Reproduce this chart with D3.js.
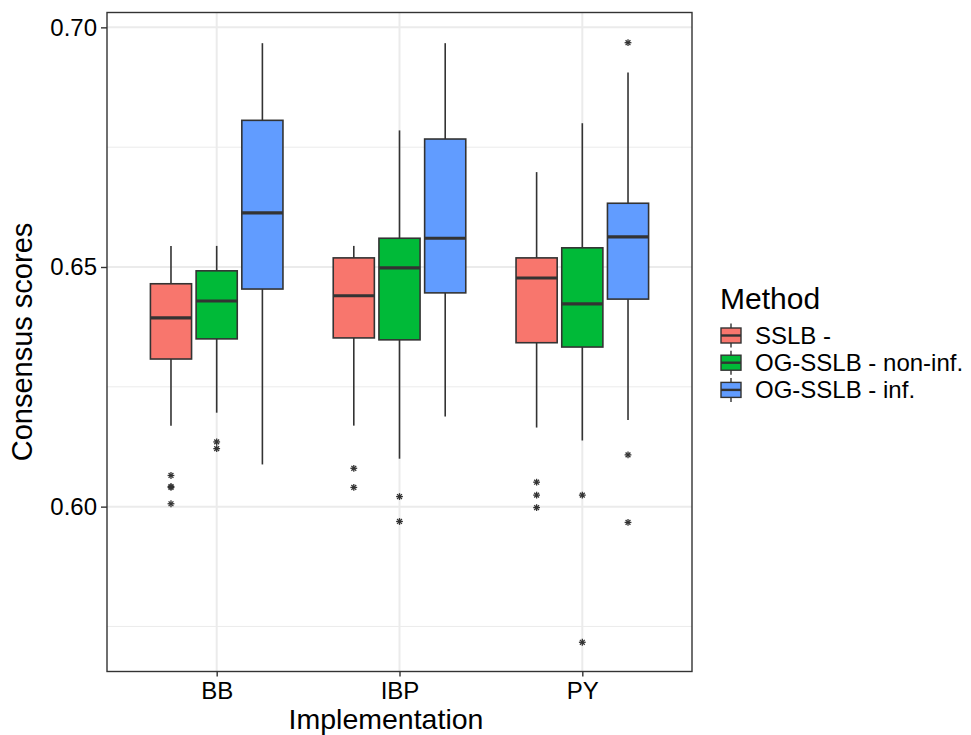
<!DOCTYPE html>
<html>
<head>
<meta charset="utf-8">
<script src="https://cdn.jsdelivr.net/npm/d3@7"></script>
<style>
  html, body { margin: 0; padding: 0; background: #fff; }
  svg { display: block; font-family: "Liberation Sans", Arial, sans-serif; }
</style>
</head>
<body>
<svg id="chart" width="971" height="735"></svg>
<script>
// ---------- data ----------
const categories = ["BB", "IBP", "PY"];
const methods = ["SSLB -", "OG-SSLB - non-inf.", "OG-SSLB - inf."];
const colors = ["#F8766D", "#00BA38", "#619CFF"];

// per category: [whiskerLow, q1, median, q3, whiskerHigh]
const sslbStats = [
  [0.6169, 0.6308, 0.6394, 0.6465, 0.6544],
  [0.6169, 0.6352, 0.6440, 0.6519, 0.6544],
  [0.6165, 0.6342, 0.6477, 0.6519, 0.6698]
];
const ogNonInfStats = [
  [0.6196, 0.6350, 0.6429, 0.6492, 0.6544],
  [0.6100, 0.6348, 0.6498, 0.6560, 0.6785],
  [0.6138, 0.6333, 0.6423, 0.6540, 0.6800]
];
const ogInfStats = [
  [0.6088, 0.6454, 0.6613, 0.6806, 0.6967],
  [0.6188, 0.6446, 0.6560, 0.6767, 0.6967],
  [0.6181, 0.6433, 0.6563, 0.6633, 0.6906]
];
const sslbOutliers = [[0.6065, 0.6042, 0.6040, 0.6006], [0.6080, 0.6040], [0.6051, 0.6024, 0.5998]];
const ogNonInfOutliers = [[0.6135, 0.6121], [0.6021, 0.5969], [0.6024, 0.5717]];
const ogInfOutliers = [[], [], [0.6968, 0.6108, 0.5967]];

const yMajorTicks = [0.60, 0.65, 0.70];
const yMinorTicks = [0.575, 0.625, 0.675];

const allStats = [sslbStats, ogNonInfStats, ogInfStats];
const allOutliers = [sslbOutliers, ogNonInfOutliers, ogInfOutliers];

// ---------- layout ----------
const panel = { left: 107, right: 692, top: 12.5, bottom: 671.5 };
const svg = d3.select("#chart");

const x = d3.scalePoint().domain(categories).range([panel.left, panel.right]).padding(0.6);
const step = x.step();
const y = d3.scaleLinear().domain([0.5656, 0.7031]).range([panel.bottom, panel.top]);

const dodge = 0.25 * step;
const boxW = 0.225 * step;
const ink = "#333333";

// panel background
svg.append("rect").attr("x", panel.left).attr("y", panel.top)
  .attr("width", panel.right - panel.left).attr("height", panel.bottom - panel.top)
  .attr("fill", "#fff");

// grid
const grid = svg.append("g");
grid.selectAll("line.minor").data(yMinorTicks).join("line")
  .attr("x1", panel.left).attr("x2", panel.right)
  .attr("y1", d => y(d)).attr("y2", d => y(d))
  .attr("stroke", "#ebebeb").attr("stroke-width", 1);
grid.selectAll("line.majory").data(yMajorTicks).join("line")
  .attr("x1", panel.left).attr("x2", panel.right)
  .attr("y1", d => y(d)).attr("y2", d => y(d))
  .attr("stroke", "#ebebeb").attr("stroke-width", 2);
grid.selectAll("line.majorx").data(categories).join("line")
  .attr("y1", panel.top).attr("y2", panel.bottom)
  .attr("x1", d => x(d)).attr("x2", d => x(d))
  .attr("stroke", "#ebebeb").attr("stroke-width", 2);

// boxes
const boxes = svg.append("g");
allStats.forEach((statsArr, mi) => {
  statsArr.forEach((s, ci) => {
    const cx = x(categories[ci]) + (mi - 1) * dodge;
    const g = boxes.append("g");
    // whiskers
    g.append("line").attr("x1", cx).attr("x2", cx)
      .attr("y1", y(s[4])).attr("y2", y(s[3]))
      .attr("stroke", ink).attr("stroke-width", 1.6);
    g.append("line").attr("x1", cx).attr("x2", cx)
      .attr("y1", y(s[1])).attr("y2", y(s[0]))
      .attr("stroke", ink).attr("stroke-width", 1.6);
    // box
    g.append("rect").attr("x", cx - boxW / 2).attr("y", y(s[3]))
      .attr("width", boxW).attr("height", y(s[1]) - y(s[3]))
      .attr("fill", colors[mi]).attr("stroke", ink).attr("stroke-width", 1.6);
    // median
    g.append("line").attr("x1", cx - boxW / 2).attr("x2", cx + boxW / 2)
      .attr("y1", y(s[2])).attr("y2", y(s[2]))
      .attr("stroke", ink).attr("stroke-width", 3.2);
    // outliers (asterisk, shape 8)
    allOutliers[mi][ci].forEach(v => {
      const py = y(v), r = 3.4, d = r * 0.7071;
      const p = g.append("g").attr("stroke", ink).attr("stroke-width", 1.3);
      p.append("line").attr("x1", cx - r).attr("x2", cx + r).attr("y1", py).attr("y2", py);
      p.append("line").attr("x1", cx).attr("x2", cx).attr("y1", py - r).attr("y2", py + r);
      p.append("line").attr("x1", cx - d).attr("x2", cx + d).attr("y1", py - d).attr("y2", py + d);
      p.append("line").attr("x1", cx - d).attr("x2", cx + d).attr("y1", py + d).attr("y2", py - d);
    });
  });
});

// panel border
svg.append("rect").attr("x", panel.left).attr("y", panel.top)
  .attr("width", panel.right - panel.left).attr("height", panel.bottom - panel.top)
  .attr("fill", "none").attr("stroke", ink).attr("stroke-width", 1.4);

// axes
const yAxis = svg.append("g").attr("transform", `translate(${panel.left},0)`)
  .call(d3.axisLeft(y).tickValues(yMajorTicks).tickFormat(d3.format(".2f")).tickSize(6).tickPadding(4));
const xAxis = svg.append("g").attr("transform", `translate(0,${panel.bottom})`)
  .call(d3.axisBottom(x).tickSize(5).tickPadding(4));
[yAxis, xAxis].forEach(a => {
  a.select(".domain").remove();
  a.selectAll(".tick line").attr("stroke", ink).attr("stroke-width", 1.4);
  a.selectAll(".tick text").attr("fill", "#000").style("font-size", "24px")
    .style("font-family", "'Liberation Sans', Arial, sans-serif");
});
xAxis.selectAll(".tick text").attr("dy", "0.75em");

// axis titles
svg.append("text").attr("x", 386).attr("y", 729).attr("text-anchor", "middle")
  .style("font-size", "28.5px").attr("fill", "#000").text("Implementation");
svg.append("text").attr("transform", `translate(32,${(panel.top + panel.bottom) / 2}) rotate(-90)`)
  .attr("text-anchor", "middle").style("font-size", "29px").attr("fill", "#000").text("Consensus scores");

// legend
const legend = svg.append("g").attr("transform", "translate(720,0)");
legend.append("text").attr("x", 0).attr("y", 309).style("font-size", "30px").attr("fill", "#000").text("Method");
methods.forEach((m, i) => {
  const cy = 335.5 + i * 27.2;
  const lg = legend.append("g");
  lg.append("line").attr("x1", 11).attr("x2", 11).attr("y1", cy - 12).attr("y2", cy + 12)
    .attr("stroke", ink).attr("stroke-width", 1.4);
  lg.append("rect").attr("x", 1).attr("y", cy - 7.5).attr("width", 20).attr("height", 15)
    .attr("fill", colors[i]).attr("stroke", ink).attr("stroke-width", 1.4);
  lg.append("line").attr("x1", 1).attr("x2", 21).attr("y1", cy).attr("y2", cy)
    .attr("stroke", ink).attr("stroke-width", 2.4);
  lg.append("text").attr("x", 35).attr("y", cy + 8).style("font-size", "24px").attr("fill", "#000").text(m);
});
</script>
</body>
</html>
